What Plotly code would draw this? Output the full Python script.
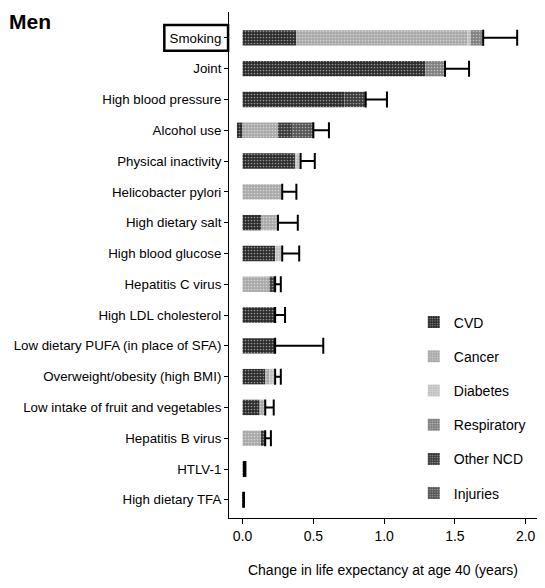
import plotly.graph_objects as go

categories = ["Smoking", "Joint", "High blood pressure", "Alcohol use", "Physical inactivity",
              "Helicobacter pylori", "High dietary salt", "High blood glucose", "Hepatitis C virus",
              "High LDL cholesterol", "Low dietary PUFA (in place of SFA)",
              "Overweight/obesity (high BMI)", "Low intake of fruit and vegetables",
              "Hepatitis B virus", "HTLV-1", "High dietary TFA"]

cvd         = [0.38, 1.29, 0.72, -0.04, 0.37, 0.00, 0.13, 0.23, 0.00, 0.23, 0.23, 0.16, 0.12, 0.00, 0.00, 0.006]
cancer      = [1.21, 0.00, 0.00, 0.25, 0.00, 0.28, 0.12, 0.00, 0.19, 0.00, 0.00, 0.03, 0.04, 0.13, 0.01, 0.00]
diabetes    = [0.02, 0.00, 0.00, 0.00, 0.04, 0.00, 0.00, 0.05, 0.00, 0.00, 0.00, 0.04, 0.00, 0.00, 0.00, 0.00]
respiratory = [0.09, 0.14, 0.00, 0.00, 0.00, 0.00, 0.00, 0.00, 0.00, 0.00, 0.00, 0.00, 0.00, 0.00, 0.00, 0.00]
other_ncd   = [0.00, 0.00, 0.15, 0.10, 0.00, 0.00, 0.00, 0.00, 0.04, 0.00, 0.00, 0.00, 0.00, 0.03, 0.00, 0.00]
injuries    = [0.00, 0.00, 0.00, 0.15, 0.00, 0.00, 0.00, 0.00, 0.00, 0.00, 0.00, 0.00, 0.00, 0.00, 0.00, 0.00]
upper_ci    = [1.94, 1.60, 1.02, 0.61, 0.51, 0.38, 0.39, 0.40, 0.27, 0.30, 0.57, 0.27, 0.22, 0.20, 0.02, 0.01]

x_ticks = [0.0, 0.5, 1.0, 1.5, 2.0]

series = [
    ("CVD", cvd, "#2b2b2b"),
    ("Cancer", cancer, "#a9a9a9"),
    ("Diabetes", diabetes, "#c2c2c2"),
    ("Respiratory", respiratory, "#808080"),
    ("Other NCD", other_ncd, "#3a3a3a"),
    ("Injuries", injuries, "#555555"),
]

FONT = "Liberation Sans Narrow, Arial Narrow, Liberation Sans, sans-serif"

fig = go.Figure()
for name, vals, col in series:
    fig.add_trace(go.Bar(
        y=categories, x=vals, name=name, orientation="h",
        legendgroup=name,
        marker=dict(color=col, line=dict(width=0),
                    pattern=dict(shape=".", fgcolor="#ffffff", bgcolor=col, size=3, solidity=0.25)),
    ))

totals = [sum(v for v in vals if v > 0) for vals in zip(cvd, cancer, diabetes, respiratory, other_ncd, injuries)]
err_plus = [max(u - t, 0) for u, t in zip(upper_ci, totals)]

fig.add_trace(go.Scatter(
    y=categories, x=totals, mode="markers", showlegend=False,
    marker=dict(size=1, color="rgba(0,0,0,0)"),
    error_x=dict(type="data", symmetric=False, array=err_plus,
                 arrayminus=[0] * len(totals), color="black", thickness=2, width=8),
    hoverinfo="skip",
))

fig.update_layout(
    width=529, height=570,
    margin=dict(l=221, r=0, t=4, b=60, autoexpand=False),
    barmode="relative", bargap=0.5,
    plot_bgcolor="white", paper_bgcolor="white",
    font=dict(family=FONT, color="black", size=14),
    legend=dict(x=0.6, y=0.418, xanchor="left", yanchor="top",
                font=dict(family=FONT, size=14), tracegroupgap=13,
                bgcolor="rgba(0,0,0,0)"),
    xaxis=dict(range=[-0.096, 2.08], tickvals=x_ticks, tickformat=".1f",
               ticks="outside", ticklen=5, tickcolor="black",
               showline=True, linecolor="black", linewidth=1,
               showgrid=False, zeroline=False, ticklabeloverflow="allow",
               tickfont=dict(family=FONT, size=14),
               title=dict(text="Change in life expectancy at age 40 (years)",
                          font=dict(family=FONT, size=14), standoff=22)),
    yaxis=dict(categoryorder="array", categoryarray=categories,
               range=[15.59, -0.84], ticks="outside", ticklen=4, tickcolor="black",
               showline=True, linecolor="black", linewidth=1, showgrid=False,
               tickfont=dict(family=FONT, size=13.3)),
    annotations=[dict(text="<b>Men</b>", xref="paper", yref="paper", x=-0.72, y=1.0079,
                      xanchor="left", yanchor="top", showarrow=False,
                      font=dict(family=FONT, size=21, color="black"))],
    shapes=[dict(type="rect", xref="paper", yref="y", x0=-0.21, x1=-0.003,
                 y0=-0.42, y1=0.42, line=dict(color="black", width=2.5))],
)

fig.write_html("out.html")
